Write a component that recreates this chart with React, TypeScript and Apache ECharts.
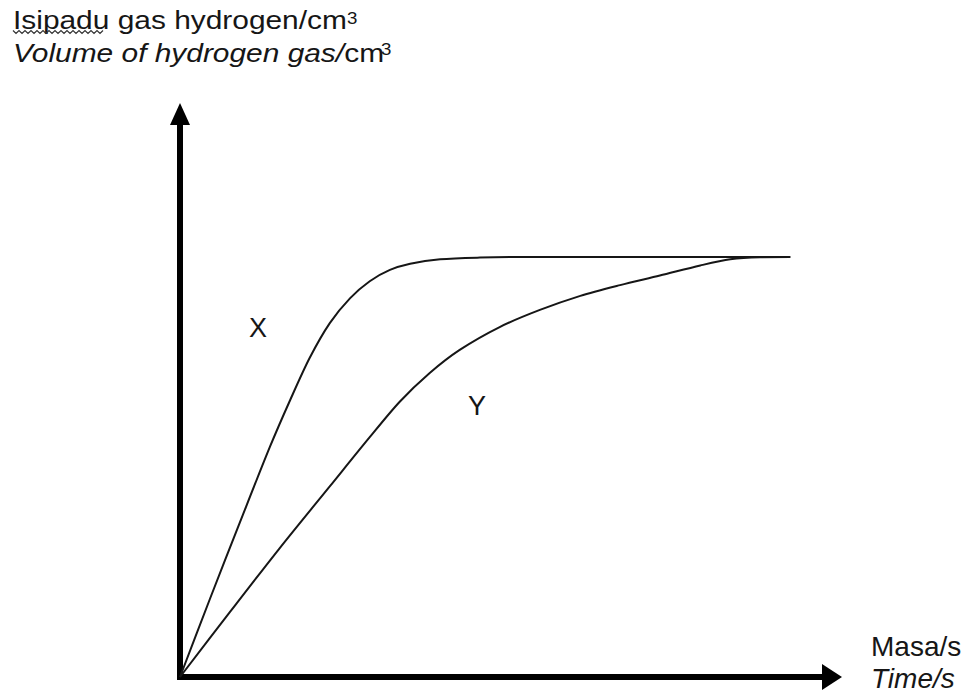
import React, { useEffect, useRef } from "react";
import * as echarts from "echarts";

// Time (arbitrary units, 0-100 along the x axis) and volume (0-100 along the y axis)
const timeX = [0, 4.6, 9.2, 13.8, 16.9, 19.9, 23.0, 26.1, 29.1, 32.2, 35.3, 39.9, 46.0, 53.7, 93.6];
const volumeX = [0, 13.9, 27.5, 40.9, 49.2, 56.7, 62.9, 67.3, 70.3, 72.3, 73.4, 74.2, 74.5, 74.6, 74.6];

const timeY = [0, 7.7, 15.3, 23.0, 29.1, 33.7, 38.3, 42.9, 49.1, 55.2, 61.4, 67.5, 73.6, 79.8, 84.4, 89.0, 93.6];
const volumeY = [0, 11.6, 22.9, 33.9, 42.6, 48.9, 54.0, 58.1, 62.2, 65.2, 67.7, 69.6, 71.3, 73.1, 74.2, 74.56, 74.6];

const curveNames = ["X", "Y"];
const yTitleMalay = "Isipadu gas hydrogen/cm";
const yTitleEnglishItalic = "Volume of hydrogen gas/";
const yTitleEnglishUnit = "cm";
const unitPower = "3";
const xTitleMalay = "Masa/s";
const xTitleEnglish = "Time/s";

const FONT = "'Liberation Sans', Arial, Helvetica, sans-serif";
const INK = "#161616";

function zip(xs: number[], ys: number[]) {
  return xs.map((x, i) => [x, ys[i]]);
}

export default function App() {
  const ref = useRef<HTMLDivElement>(null);

  useEffect(() => {
    if (!ref.current) return;
    const chart = echarts.init(ref.current, null, { renderer: "svg" });

    // wavy spell-check underline under "Isipadu"
    const wave: number[][] = [];
    for (let i = 0; i <= 30; i++) {
      wave.push([13 + i * 3, i % 2 === 0 ? 30.5 : 33.5]);
    }

    const axisCommon = {
      type: "value" as const,
      min: 0,
      max: 100,
      axisTick: { show: false },
      axisLabel: { show: false },
      splitLine: { show: false },
    };

    const lineSeries = (name: string, xs: number[], ys: number[]) => ({
      name,
      type: "line",
      data: zip(xs, ys),
      smooth: 0.3,
      showSymbol: false,
      lineStyle: { color: INK, width: 2 },
      z: 3,
    });

    const txt = (
      text: string,
      x: number,
      y: number,
      size: number,
      opts: { italic?: boolean; align?: string; scaleX?: number } = {}
    ) => ({
      type: "text",
      x,
      y,
      scaleX: opts.scaleX ?? 1,
      style: {
        text,
        fontSize: size,
        fontFamily: FONT,
        fontStyle: opts.italic ? "italic" : "normal",
        fill: INK,
        align: opts.align ?? "left",
        verticalAlign: "middle",
      },
    });

    chart.setOption({
      animation: false,
      backgroundColor: "#ffffff",
      grid: { left: 180, right: 136, top: 114, bottom: 21, containLabel: false },
      xAxis: {
        ...axisCommon,
        axisLine: {
          show: true,
          lineStyle: { color: "#000", width: 6, cap: "square" },
          symbol: ["none", "path://M13,0 L26,20 L0,20 Z"],
          symbolSize: [26, 20],
        },
      },
      yAxis: {
        ...axisCommon,
        axisLine: {
          show: true,
          lineStyle: { color: "#000", width: 6, cap: "square" },
          symbol: ["none", "path://M10,0 L20,22 L0,22 Z"],
          symbolSize: [20, 22],
        },
      },
      series: [
        lineSeries(curveNames[0], timeX, volumeX),
        lineSeries(curveNames[1], timeY, volumeY),
      ],
      graphic: [
        txt(yTitleMalay, 13, 20, 26, { scaleX: 1.15 }),
        txt(unitPower, 347, 18, 17, { scaleX: 1.1 }),
        {
          type: "polyline",
          shape: { points: wave },
          style: { stroke: "#333", lineWidth: 1.2, fill: "none" },
        },
        {
          type: "text",
          x: 13,
          y: 53,
          scaleX: 1.15,
          style: {
            text: `{i|${yTitleEnglishItalic}}{n|${yTitleEnglishUnit}}`,
            fill: INK,
            align: "left",
            verticalAlign: "middle",
            rich: {
              i: { fontSize: 26, fontFamily: FONT, fontStyle: "italic", fill: INK },
              n: { fontSize: 26, fontFamily: FONT, fill: INK },
            },
          },
        },
        txt(unitPower, 381, 49, 17, { scaleX: 1.1 }),
        txt(xTitleMalay, 871, 646, 28),
        txt(xTitleEnglish, 871, 678, 28, { italic: true }),
        txt(curveNames[0], 258, 328, 27, { align: "center" }),
        txt(curveNames[1], 477, 406, 27, { align: "center" }),
      ],
    });

    return () => chart.dispose();
  }, []);

  return (
    <div
      ref={ref}
      style={{ position: "fixed", left: 0, top: 0, width: 968, height: 698, background: "#fff" }}
    />
  );
}
